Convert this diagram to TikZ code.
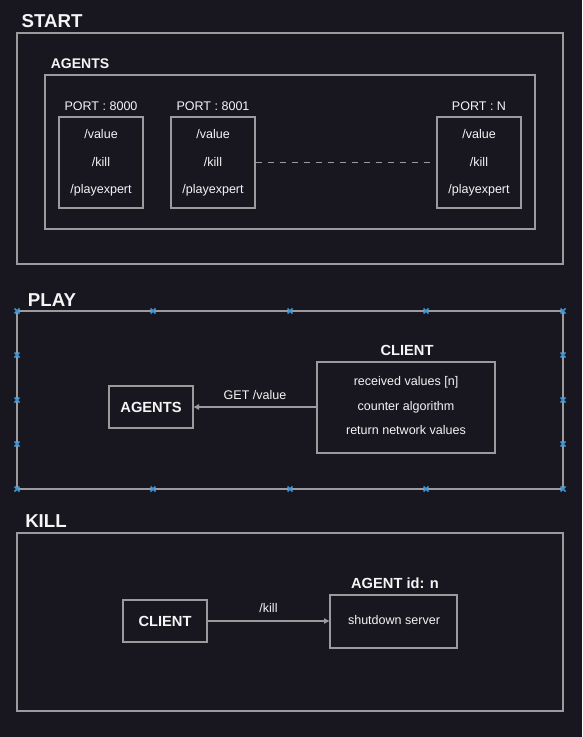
\documentclass[tikz,border=0pt]{standalone}
\usepackage{fontspec}
\setmainfont{Liberation Sans}
\usetikzlibrary{fit,arrows.meta}
\definecolor{bgc}{RGB}{24,22,31}
\definecolor{linec}{RGB}{155,155,158}
\definecolor{txtc}{RGB}{245,245,245}
\definecolor{markc}{RGB}{55,150,215}
\tikzset{
  frame/.style={draw=linec, line width=1pt, inner sep=0pt},
  title/.style={text=txtc, font=\bfseries\fontsize{14}{16}\selectfont, inner sep=0pt},
  subtitle/.style={text=txtc, font=\bfseries\fontsize{10.5}{12}\selectfont, inner sep=0pt},
  boxtext/.style={text=txtc, font=\bfseries\fontsize{11}{13}\selectfont, inner sep=0pt},
  small/.style={text=txtc, font=\fontsize{9.4}{11}\selectfont, inner sep=0pt},
  conn/.style={draw=linec, line width=0.8pt},
  markx/.style={draw=markc, line width=1.3pt}
}
\newcommand{\selmark}[2]{\draw[markx] (#1-2.5,#2-2.5) -- (#1+2.5,#2+2.5) (#1-2.5,#2+2.5) -- (#1+2.5,#2-2.5);}
\begin{document}
\begin{tikzpicture}[x=0.75pt,y=-0.75pt]
\fill[bgc] (0,0) rectangle (582,737);
\useasboundingbox (0,0) rectangle (582,737);

% ---------- START ----------
\node[title] (tstart) at (52,21) {START};
\node[frame, fit={(17,33) (563,264)}] (startbox) {};
\node[subtitle] (tagents) at (80,64) {AGENTS};
\node[frame, fit={(45,75) (535,229)}] (agentsbox) {};

\node[small] (p1) at (101,106) {PORT : 8000};
\node[frame, fit={(59,117) (143,208)}] (a1) {};
\node[small] (a1v) at (101,134) {/value};
\node[small] (a1k) at (101,162) {/kill};
\node[small] (a1p) at (101,190) {/playexpert};

\node[small] (p2) at (213,106) {PORT : 8001};
\node[frame, fit={(171,117) (255,208)}] (a2) {};
\node[small] (a2v) at (213,134) {/value};
\node[small] (a2k) at (213,162) {/kill};
\node[small] (a2p) at (213,190) {/playexpert};

\node[small] (p3) at (479,106) {PORT : N};
\node[frame, fit={(437,117) (521,208)}] (a3) {};
\node[small] (a3v) at (479,134) {/value};
\node[small] (a3k) at (479,162) {/kill};
\node[small] (a3p) at (479,190) {/playexpert};

\draw[conn, line width=0.7pt, dash pattern=on 4.5pt off 4.5pt] (a2.east) -- (a3.west);

% ---------- PLAY ----------
\node[title] (tplay) at (52,300) {PLAY};
\node[frame, fit={(17,311) (563,489)}] (playbox) {};
\foreach \xx in {17,153,290,426,563} {\selmark{\xx}{311}\selmark{\xx}{489}}
\foreach \yy in {355,400,444} {\selmark{17}{\yy}\selmark{563}{\yy}}

\node[frame, fit={(109,386) (193,428)}] (pagents) {};
\node[boxtext] at (pagents.center) {AGENTS};

\node[boxtext] (tclient) at (407,350) {CLIENT};
\node[frame, fit={(317,362) (495,453)}] (pclient) {};
\node[small] (c1) at (406,382) {received values [n]};
\node[small] (c2) at (406,407) {counter algorithm};
\node[small] (c3) at (406,430) {return network values};

\draw[conn, -{Triangle[length=4pt,width=4pt]}] (pclient.west |- pagents.east) -- (pagents.east)
  node[small, pos=0.5, above=5pt] (getlbl) {GET /value};

% ---------- KILL ----------
\node[title] (tkill) at (46,521) {KILL};
\node[frame, fit={(17,533) (563,711)}] (killbox) {};

\node[frame, fit={(123,600) (207,642)}] (kclient) {};
\node[boxtext] at (kclient.center) {CLIENT};

\node[boxtext] (tagentn) at (395,583) {AGENT id: n};
\node[frame, fit={(330,595) (457,648)}] (kagent) {};
\node[small] (shut) at (394,620) {shutdown server};

\draw[conn, -{Triangle[length=4pt,width=4pt]}] (kclient.east) -- (kclient.east -| kagent.west)
  node[small, pos=0.5, above=6pt] (killlbl) {/kill};
\end{tikzpicture}
\end{document}
